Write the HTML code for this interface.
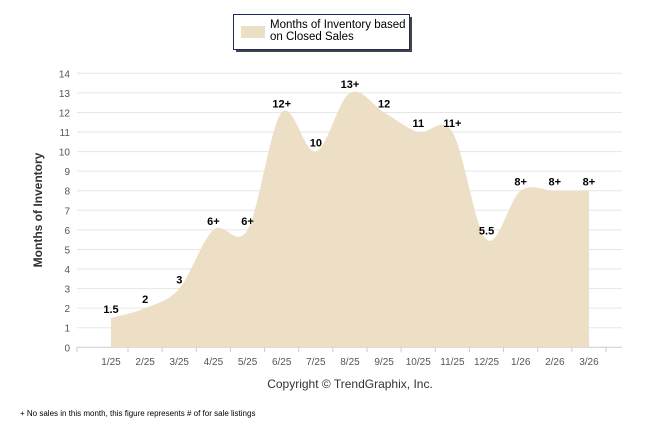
<!DOCTYPE html>
<html><head><meta charset="utf-8"><style>
body{margin:0;background:#fff;font-family:"Liberation Sans",Arial,sans-serif;}
svg{display:block}
</style></head><body>
<svg id="c" width="646" height="434">
<g>
<rect x="236" y="17" width="176" height="35" fill="#444"/>
<rect x="233.5" y="14.5" width="176" height="35" fill="#fff" stroke="#1a2a5a"/>
<rect x="241" y="26" width="24" height="12" fill="#ecdfc6"/>
<text x="270" y="28" font-size="11.5" fill="#000"><tspan x="270">Months of Inventory based</tspan><tspan x="270" dy="12">on Closed Sales</tspan></text>
</g>
<text transform="translate(42,210) rotate(-90)" text-anchor="middle" font-size="12" font-weight="bold" fill="#333">Months of Inventory</text>
<g id="grid"></g><g id="area"></g><g id="labels"></g>
<text x="350" y="388" text-anchor="middle" font-size="12" fill="#333">Copyright © TrendGraphix, Inc.</text>
<text x="20" y="416" font-size="8" fill="#000">+  No sales in this month, this figure represents # of for sale listings</text>
</svg>
<script>
const categories=["1/25","2/25","3/25","4/25","5/25","6/25","7/25","8/25","9/25","10/25","11/25","12/25","1/26","2/26","3/26"];
const values=[1.5,2,3,6,6,12,10,13,12,11,11,5.5,8,8,8];
const pointLabels=["1.5","2","3","6+","6+","12+","10","13+","12","11","11+","5.5","8+","8+","8+"];
const yTicks=[0,1,2,3,4,5,6,7,8,9,10,11,12,13,14];
const NS="http://www.w3.org/2000/svg";
const x0=77,x1=622,yB=347.3,yT=73.3;
const X=i=>111+i*34.14, Y=v=>yB-(v/14)*(yB-yT);
function mk(t,a,p){const e=document.createElementNS(NS,t);for(const k in a)e.setAttribute(k,a[k]);p.appendChild(e);return e;}
const g=document.getElementById('grid');
yTicks.forEach(v=>{
 const l=mk('line',{x1:x0,x2:x1,y1:Y(v),y2:Y(v),stroke:v===0?'#ccc':'#e6e6e6'},g);
 
 
 const t=mk('text',{x:70,y:Y(v)+4,'text-anchor':'end','font-size':10,fill:'#555'},g);t.textContent=v;
 
 
});
mk('line',{x1:x0,x2:x0,y1:yB,y2:yB+5,stroke:'#ccc'},g);
categories.forEach((c,i)=>{
 mk('line',{x1:X(i)+17,x2:X(i)+17,y1:yB,y2:yB+5,stroke:'#ccc'},g);
 const t=mk('text',{x:X(i),y:365,'text-anchor':'middle','font-size':10,fill:'#555'},g);t.textContent=c;
 
 
});
const pts=values.map((v,i)=>[X(i),Y(v)]);
let d=`M${pts[0][0]},${yB} L${pts[0][0]},${pts[0][1]}`;
for(let i=0;i<pts.length-1;i++){
 const p0=pts[Math.max(i-1,0)],p1=pts[i],p2=pts[i+1],p3=pts[Math.min(i+2,pts.length-1)];
 const k=1/6;
 d+=` C${p1[0]+(p2[0]-p0[0])*k},${p1[1]+(p2[1]-p0[1])*k} ${p2[0]-(p3[0]-p1[0])*k},${p2[1]-(p3[1]-p1[1])*k} ${p2[0]},${p2[1]}`;
}
d+=` L${pts[pts.length-1][0]},${yB} Z`;
const a=mk('path',{d:d,fill:'#ecdfc6'},document.getElementById('area'));


const L=document.getElementById('labels');
pointLabels.forEach((s,i)=>{
 const t=mk('text',{x:X(i),y:Y(values[i])-5,'text-anchor':'middle','font-size':11,'font-weight':'bold',fill:'#000'},L);t.textContent=s;
 
 
});
</script>
</body></html>
